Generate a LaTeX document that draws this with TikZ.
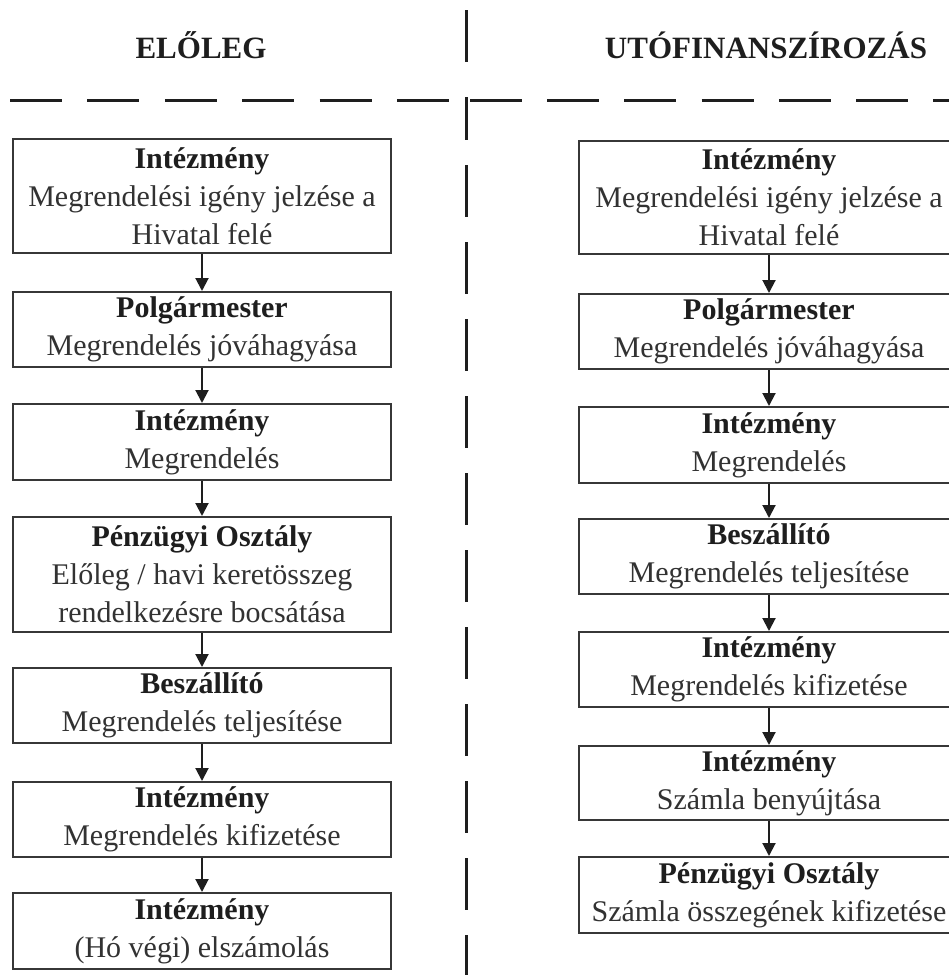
\documentclass[tikz,border=0pt]{standalone}
\usepackage{fontspec}
\setmainfont{Liberation Serif}
\usetikzlibrary{arrows.meta}

\definecolor{ink}{RGB}{30,30,30}
\definecolor{bodyink}{RGB}{50,50,50}
\definecolor{frame}{RGB}{55,55,55}

\tikzset{
  sepline/.style={line width=3pt, draw=ink},
  stepbox/.style={draw=frame, line width=2pt, fill=white, inner sep=0pt,
    align=center, text=bodyink, font=\fontsize{30}{38}\selectfont},
  leftbox/.style={stepbox, minimum width=378pt},
  rightbox/.style={stepbox, minimum width=380pt},
  flow/.style={draw=ink, line width=2pt,
    -{Triangle[length=13pt,width=13pt]}},
  colhead/.style={text=ink, font=\fontsize{31}{36}\selectfont\bfseries,
    inner sep=0pt, anchor=base}
}
\newcommand{\ttl}[1]{\textcolor{ink}{\textbf{#1}}}

\begin{document}
\begin{tikzpicture}[x=1pt, y=-1pt]
\useasboundingbox (0,0) rectangle (949,975);

% column headings
\node[colhead] (hA) at (201,58) {ELŐLEG};
\node[colhead] (hB) at (766,58) {UTÓFINANSZÍROZÁS};

% separators
\draw[sepline] (466,10) -- (466,62);
\draw[sepline, dash pattern=on 52pt off 25.4pt] (10,100) -- (449,100);
\draw[sepline, dash pattern=on 52pt off 25.2pt] (470,100) -- (949,100);
\draw[sepline, dash pattern=on 52pt off 25pt, dash phase=9pt] (466,97) -- (466,975);

% left column: advance payment
\node[leftbox, minimum height=114pt] (L1) at (202,196)
  {\ttl{Intézmény}\\Megrendelési igény jelzése a\\Hivatal felé};
\node[leftbox, minimum height=75pt] (L2) at (202,329.5)
  {\ttl{Polgármester}\\Megrendelés jóváhagyása};
\node[leftbox, minimum height=76pt] (L3) at (202,442)
  {\ttl{Intézmény}\\Megrendelés};
\node[leftbox, minimum height=115pt] (L4) at (202,574.5)
  {\ttl{Pénzügyi Osztály}\\Előleg / havi keretösszeg\\rendelkezésre bocsátása};
\node[leftbox, minimum height=75pt] (L5) at (202,705.5)
  {\ttl{Beszállító}\\Megrendelés teljesítése};
\node[leftbox, minimum height=75pt] (L6) at (202,819.5)
  {\ttl{Intézmény}\\Megrendelés kifizetése};
\node[leftbox, minimum height=76pt] (L7) at (202,931)
  {\ttl{Intézmény}\\(Hó végi) elszámolás};

% right column: post-financing
\node[rightbox, minimum height=113pt] (R1) at (769,197.5)
  {\ttl{Intézmény}\\Megrendelési igény jelzése a\\Hivatal felé};
\node[rightbox, minimum height=75pt] (R2) at (769,331.5)
  {\ttl{Polgármester}\\Megrendelés jóváhagyása};
\node[rightbox, minimum height=76pt] (R3) at (769,445)
  {\ttl{Intézmény}\\Megrendelés};
\node[rightbox, minimum height=75pt] (R4) at (769,556.5)
  {\ttl{Beszállító}\\Megrendelés teljesítése};
\node[rightbox, minimum height=75pt] (R5) at (769,669.5)
  {\ttl{Intézmény}\\Megrendelés kifizetése};
\node[rightbox, minimum height=74pt] (R6) at (769,783)
  {\ttl{Intézmény}\\Számla benyújtása};
\node[rightbox, minimum height=76pt] (R7) at (769,895)
  {\ttl{Pénzügyi Osztály}\\Számla összegének kifizetése};

% flow arrows
\foreach \a/\b in {L1/L2,L2/L3,L3/L4,L4/L5,L5/L6,L6/L7,
                   R1/R2,R2/R3,R3/R4,R4/R5,R5/R6,R6/R7}
  \draw[flow] (\a.south) -- (\b.north);
\end{tikzpicture}
\end{document}
